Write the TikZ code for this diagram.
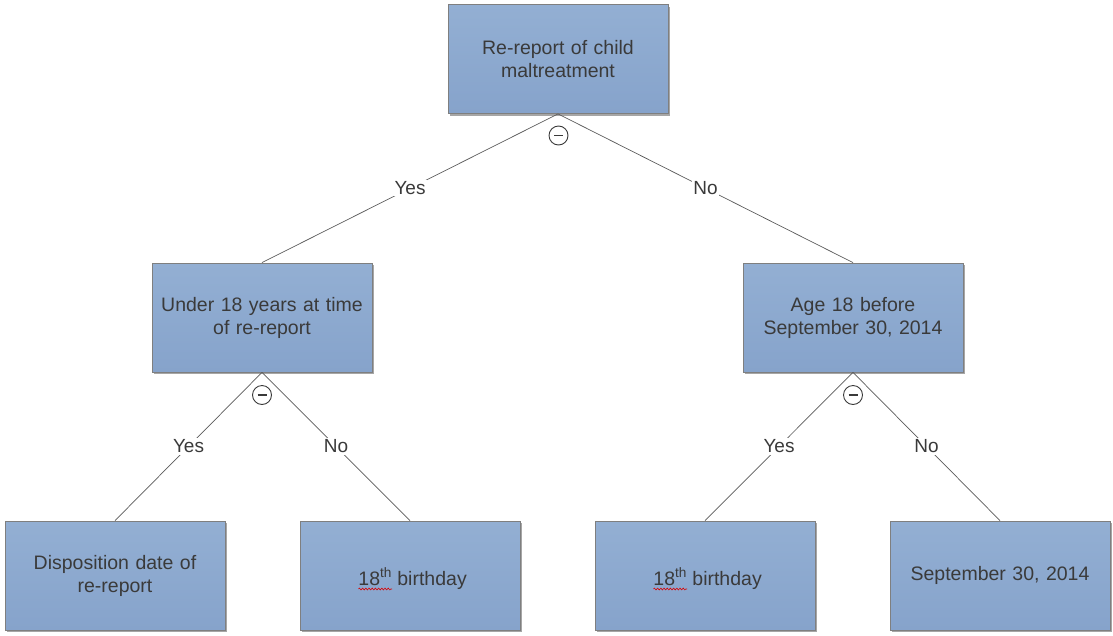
\documentclass[tikz,border=0pt]{standalone}
\usepackage{fontspec}
\setmainfont{Liberation Sans}
\usetikzlibrary{shadows,decorations.pathmorphing}
\definecolor{boxtop}{HTML}{93AFD3}
\definecolor{boxbot}{HTML}{86A3CB}
\definecolor{boxline}{HTML}{7F7F7F}
\definecolor{txt}{HTML}{3A3A3A}
\definecolor{conn}{HTML}{5A5A5A}
\newcommand{\boxfont}{\fontsize{19.5}{23}\selectfont}
\tikzset{
  treebox/.style={draw=boxline, line width=0.8pt, top color=boxtop, bottom color=boxbot,
    minimum width=220pt, minimum height=109pt, inner sep=0pt,
    text width=214pt, align=center, text=txt, font=\boxfont,
    drop shadow={opacity=0.35, shadow xshift=2pt, shadow yshift=-2pt, fill=black}},
  boxtext/.style={inner sep=0pt, outer sep=0pt, text=txt, font=\boxfont},
  squiggle/.style={draw=red!85!black, line width=0.6pt, decorate,
    decoration={snake, amplitude=0.9pt, segment length=3.2pt}},
  conline/.style={draw=conn, line width=0.7pt},
  edgelbl/.style={fill=white, inner sep=1.5pt, text=txt, font=\fontsize{19}{22}\selectfont},
  splitmark/.style={circle, draw=txt, line width=0.9pt, minimum size=19pt, inner sep=0pt,
    path picture={\draw[txt, line width=1.1pt] ([xshift=-4.5pt]path picture bounding box.center) -- ([xshift=4.5pt]path picture bounding box.center);}}
}
\begin{document}
\begin{tikzpicture}[x=1pt,y=-1pt]
\useasboundingbox (0,0) rectangle (1113,635);
\node[treebox] (root) at (558,59) {Re-report of child\\maltreatment};
\node[treebox] (under) at (262,317.5) {Under 18 years at time\\of re-report};
\node[treebox] (age) at (853,317.5) {Age 18 before\\September 30, 2014};
\node[treebox] (disp) at (115,575.5) {Disposition date of\\re-report};
\node[treebox] (bd1) at (410,575.5) {};
\node[treebox] (bd2) at (705,575.5) {};
\node[treebox] (sep) at (1000,575.5) {September 30, 2014};

\node[boxtext, anchor=base east] (bd1a) at ([xshift=-18pt,yshift=-10pt]bd1.center) {18\textsuperscript{th}};
\node[boxtext, anchor=base west] (bd1b) at ([xshift=5.4pt]bd1a.base east) {birthday};
\node[boxtext, anchor=base east] (bd2a) at ([xshift=-18pt,yshift=-10pt]bd2.center) {18\textsuperscript{th}};
\node[boxtext, anchor=base west] (bd2b) at ([xshift=5.4pt]bd2a.base east) {birthday};
\draw[squiggle] ([yshift=-3.5pt]bd1a.base west) -- ([yshift=-3.5pt]bd1a.base east);
\draw[squiggle] ([yshift=-3.5pt]bd2a.base west) -- ([yshift=-3.5pt]bd2a.base east);

\draw[conline] (root.south) -- node[edgelbl] {Yes} (under.north);
\draw[conline] (root.south) -- node[edgelbl] {No} (age.north);
\draw[conline] (under.south) -- node[edgelbl] {Yes} (disp.north);
\draw[conline] (under.south) -- node[edgelbl] {No} (bd1.north);
\draw[conline] (age.south) -- node[edgelbl] {Yes} (bd2.north);
\draw[conline] (age.south) -- node[edgelbl] {No} (sep.north);

\node[splitmark] (m1) at (558.5,135.5) {};
\node[splitmark] (m2) at (262,395) {};
\node[splitmark] (m3) at (853,395) {};
\end{tikzpicture}
\end{document}
